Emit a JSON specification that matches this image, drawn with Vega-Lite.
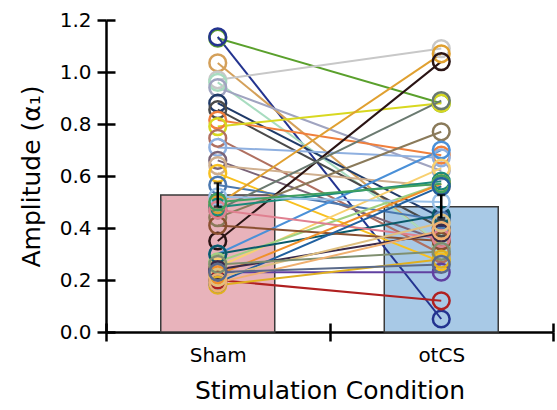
{
  "$schema": "https://vega.github.io/schema/vega-lite/v6.json",
  "width": 447,
  "height": 312,
  "autosize": {"type": "none"},
  "padding": {"left": 106, "top": 20, "right": 4, "bottom": 78},
  "background": "white",
  "config": {"view": {"stroke": null}, "font": "DejaVu Sans"},
  "datasets": {
    "summary": [
      {"condition": "Sham", "mean": 0.527, "lo": 0.482, "hi": 0.573},
      {"condition": "otCS", "mean": 0.482, "lo": 0.438, "hi": 0.527}
    ],
    "subjects": [
      {"id": "s01", "condition": "Sham", "value": 1.13}, {"id": "s01", "condition": "otCS", "value": 0.88},
      {"id": "s02", "condition": "Sham", "value": 1.135}, {"id": "s02", "condition": "otCS", "value": 0.05},
      {"id": "s03", "condition": "Sham", "value": 1.035}, {"id": "s03", "condition": "otCS", "value": 0.33},
      {"id": "s04", "condition": "Sham", "value": 0.97}, {"id": "s04", "condition": "otCS", "value": 1.09},
      {"id": "s05", "condition": "Sham", "value": 0.96}, {"id": "s05", "condition": "otCS", "value": 0.34},
      {"id": "s06", "condition": "Sham", "value": 0.94}, {"id": "s06", "condition": "otCS", "value": 0.62},
      {"id": "s07", "condition": "Sham", "value": 0.88}, {"id": "s07", "condition": "otCS", "value": 0.44},
      {"id": "s08", "condition": "Sham", "value": 0.855}, {"id": "s08", "condition": "otCS", "value": 0.40},
      {"id": "s09", "condition": "Sham", "value": 0.815}, {"id": "s09", "condition": "otCS", "value": 0.68},
      {"id": "s10", "condition": "Sham", "value": 0.79}, {"id": "s10", "condition": "otCS", "value": 0.88},
      {"id": "s11", "condition": "Sham", "value": 0.745}, {"id": "s11", "condition": "otCS", "value": 0.30},
      {"id": "s12", "condition": "Sham", "value": 0.71}, {"id": "s12", "condition": "otCS", "value": 0.67},
      {"id": "s13", "condition": "Sham", "value": 0.66}, {"id": "s13", "condition": "otCS", "value": 0.35},
      {"id": "s14", "condition": "Sham", "value": 0.64}, {"id": "s14", "condition": "otCS", "value": 0.56},
      {"id": "s15", "condition": "Sham", "value": 0.61}, {"id": "s15", "condition": "otCS", "value": 0.27},
      {"id": "s16", "condition": "Sham", "value": 0.565}, {"id": "s16", "condition": "otCS", "value": 0.43},
      {"id": "s17", "condition": "Sham", "value": 0.49}, {"id": "s17", "condition": "otCS", "value": 1.07},
      {"id": "s18", "condition": "Sham", "value": 0.35}, {"id": "s18", "condition": "otCS", "value": 1.04},
      {"id": "s19", "condition": "Sham", "value": 0.47}, {"id": "s19", "condition": "otCS", "value": 0.89},
      {"id": "s20", "condition": "Sham", "value": 0.44}, {"id": "s20", "condition": "otCS", "value": 0.77},
      {"id": "s21", "condition": "Sham", "value": 0.30}, {"id": "s21", "condition": "otCS", "value": 0.70},
      {"id": "s22", "condition": "Sham", "value": 0.25}, {"id": "s22", "condition": "otCS", "value": 0.63},
      {"id": "s23", "condition": "Sham", "value": 0.48}, {"id": "s23", "condition": "otCS", "value": 0.58},
      {"id": "s24", "condition": "Sham", "value": 0.27}, {"id": "s24", "condition": "otCS", "value": 0.57},
      {"id": "s25", "condition": "Sham", "value": 0.30}, {"id": "s25", "condition": "otCS", "value": 0.45},
      {"id": "s26", "condition": "Sham", "value": 0.20}, {"id": "s26", "condition": "otCS", "value": 0.12},
      {"id": "s27", "condition": "Sham", "value": 0.23}, {"id": "s27", "condition": "otCS", "value": 0.23},
      {"id": "s28", "condition": "Sham", "value": 0.41}, {"id": "s28", "condition": "otCS", "value": 0.35},
      {"id": "s29", "condition": "Sham", "value": 0.52}, {"id": "s29", "condition": "otCS", "value": 0.50},
      {"id": "s30", "condition": "Sham", "value": 0.22}, {"id": "s30", "condition": "otCS", "value": 0.57},
      {"id": "s31", "condition": "Sham", "value": 0.47}, {"id": "s31", "condition": "otCS", "value": 0.36},
      {"id": "s32", "condition": "Sham", "value": 0.50}, {"id": "s32", "condition": "otCS", "value": 0.57},
      {"id": "s33", "condition": "Sham", "value": 0.24}, {"id": "s33", "condition": "otCS", "value": 0.38},
      {"id": "s34", "condition": "Sham", "value": 0.18}, {"id": "s34", "condition": "otCS", "value": 0.28},
      {"id": "s35", "condition": "Sham", "value": 0.19}, {"id": "s35", "condition": "otCS", "value": 0.56},
      {"id": "s36", "condition": "Sham", "value": 0.21}, {"id": "s36", "condition": "otCS", "value": 0.42},
      {"id": "s37", "condition": "Sham", "value": 0.26}, {"id": "s37", "condition": "otCS", "value": 0.31},
      {"id": "s38", "condition": "Sham", "value": 0.19}, {"id": "s38", "condition": "otCS", "value": 0.39},
      {"id": "s39", "condition": "Sham", "value": 0.23}, {"id": "s39", "condition": "otCS", "value": 0.26}
    ]
  },
  "resolve": {"axis": {"x": "independent", "y": "independent"}},
  "layer": [
    {
      "data": {"name": "summary"},
      "mark": {"type": "bar", "width": {"band": 0.51}, "stroke": "#3a3a3a", "strokeWidth": 1.5},
      "encoding": {
        "x": {
          "field": "condition", "type": "nominal",
          "scale": {"domain": ["Sham", "otCS"], "paddingInner": 0, "paddingOuter": 0},
          "axis": {
            "orient": "bottom", "title": "Stimulation Condition", "labelAngle": 0,
            "tickBand": "extent", "tickSize": 9, "tickWidth": 2.5, "tickColor": "black",
            "domainColor": "black", "domainWidth": 2.5,
            "labelFontSize": 20, "labelColor": "black", "labelPadding": 4, "labelFont": "DejaVu Sans",
            "titleFontSize": 25, "titleFontWeight": "normal", "titleColor": "black", "titlePadding": 13, "titleFont": "DejaVu Sans"
          }
        },
        "y": {
          "field": "mean", "type": "quantitative",
          "scale": {"domain": [0, 1.2], "nice": false, "zero": true},
          "axis": {
            "orient": "left", "title": "Amplitude (α₁)", "values": [0, 0.2, 0.4, 0.6, 0.8, 1.0, 1.2], "format": ".1f",
            "grid": false, "tickSize": 9, "tickWidth": 2.5, "tickColor": "black",
            "domainColor": "black", "domainWidth": 2.5,
            "labelFontSize": 20, "labelColor": "black", "labelPadding": 6, "labelFont": "DejaVu Sans",
            "titleFontSize": 25, "titleFontWeight": "normal", "titleColor": "black", "titlePadding": 15, "titleFont": "DejaVu Sans"
          }
        },
        "fill": {
          "field": "condition", "type": "nominal",
          "scale": {"domain": ["Sham", "otCS"], "range": ["#e8b3bb", "#a8c9e6"]},
          "legend": null
        }
      }
    },
    {
      "data": {"name": "subjects"},
      "mark": {"type": "line", "strokeWidth": 2},
      "encoding": {
        "x": {"field": "condition", "type": "nominal", "axis": null},
        "y": {"field": "value", "type": "quantitative", "axis": null},
        "color": {
          "field": "id", "type": "nominal", "legend": null,
          "scale": {
            "domain": ["s01","s02","s03","s04","s05","s06","s07","s08","s09","s10","s11","s12","s13","s14","s15","s16","s17","s18","s19","s20","s21","s22","s23","s24","s25","s26","s27","s28","s29","s30","s31","s32","s33","s34","s35","s36","s37","s38","s39"],
            "range": ["#5aa02c","#23338f","#d4a05a","#c8c8c8","#a8dcc0","#a0a4c0","#1f3a68","#4a4a4a","#f07f3c","#d8d820","#b07060","#8fb0e0","#7a6478","#d0b090","#f8c020","#4a78b0","#e0a030","#2a1414","#6a7a70","#8a7a5a","#4a90d8","#f8d070","#1a8a7a","#a0d080","#0a5a6a","#b02020","#6040a0","#8a5030","#98c0e8","#f0902a","#e08090","#40a060","#3a2a4a","#e0b020","#2060a0","#e0c080","#7f8f6f","#f0b070","#5a6a8a"]
          }
        },
        "detail": {"field": "id"}
      }
    },
    {
      "data": {"name": "subjects"},
      "mark": {"type": "point", "shape": "circle", "filled": false, "size": 280, "strokeWidth": 2.5, "opacity": 1},
      "encoding": {
        "x": {"field": "condition", "type": "nominal", "axis": null},
        "y": {"field": "value", "type": "quantitative", "axis": null},
        "color": {"field": "id", "type": "nominal", "legend": null}
      }
    },
    {
      "data": {"name": "summary"},
      "mark": {"type": "rule", "color": "black", "strokeWidth": 2.5},
      "encoding": {
        "x": {"field": "condition", "type": "nominal", "axis": null},
        "y": {"field": "lo", "type": "quantitative", "axis": null},
        "y2": {"field": "hi"}
      }
    },
    {
      "data": {"name": "summary"},
      "mark": {"type": "tick", "color": "black", "thickness": 2.5, "size": 8, "orient": "horizontal"},
      "encoding": {
        "x": {"field": "condition", "type": "nominal", "axis": null},
        "y": {"field": "lo", "type": "quantitative", "axis": null}
      }
    },
    {
      "data": {"name": "summary"},
      "mark": {"type": "tick", "color": "black", "thickness": 2.5, "size": 8, "orient": "horizontal"},
      "encoding": {
        "x": {"field": "condition", "type": "nominal", "axis": null},
        "y": {"field": "hi", "type": "quantitative", "axis": null}
      }
    },
    {
      "data": {"name": "summary"},
      "mark": {"type": "point", "opacity": 0},
      "encoding": {
        "x": {
          "field": "condition", "type": "nominal",
          "axis": {"orient": "bottom", "offset": -9, "title": null, "labels": false, "domain": false, "tickBand": "extent", "tickSize": 9, "tickWidth": 2.5, "tickColor": "black"}
        },
        "y": {
          "field": "mean", "type": "quantitative",
          "axis": {"orient": "left", "offset": -9, "title": null, "labels": false, "domain": false, "grid": false, "values": [0, 0.2, 0.4, 0.6, 0.8, 1.0, 1.2], "tickSize": 9, "tickWidth": 2.5, "tickColor": "black"}
        }
      }
    }
  ]
}
